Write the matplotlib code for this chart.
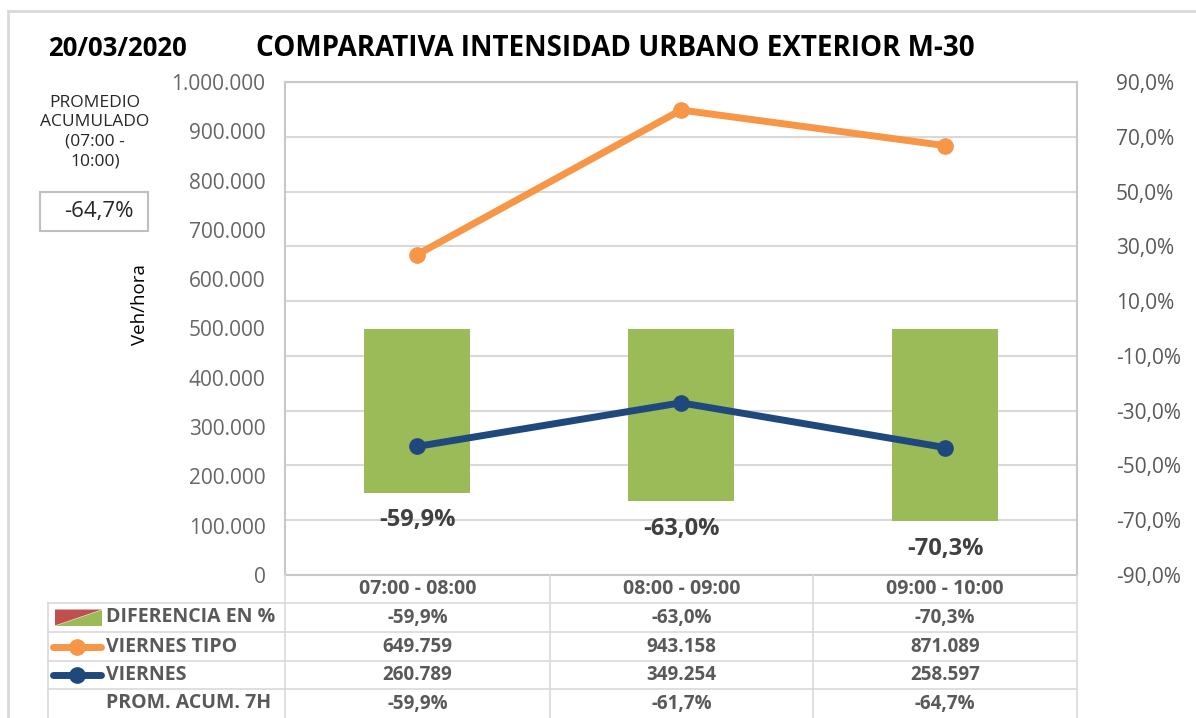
import numpy as np
import matplotlib.pyplot as plt
from matplotlib.lines import Line2D
from matplotlib.patches import Polygon, Rectangle

plt.rcParams['font.family'] = ['Open Sans', 'DejaVu Sans']

# data
franjas = ['07:00 - 08:00', '08:00 - 09:00', '09:00 - 10:00']
diferencia = [-59.9, -63.0, -70.3]
viernes_tipo = [649759, 943158, 871089]
viernes = [260789, 349254, 258597]
prom_acum = [-59.9, -61.7, -64.7]
prom_total = -64.7
fecha = '20/03/2020'
titulo = 'COMPARATIVA INTENSIDAD URBANO EXTERIOR M-30'

VERDE = '#9BBB59'
ROJO = '#C0504D'
NARANJA = '#F79646'
AZUL = '#1F497D'
GRIS = '#595959'
LINEA = '#D9D9D9'

W, H = 1196, 718


def fx(px):
    return px / W


def fy(py):
    return 1 - py / H


def pct(v):
    return f'{v:.1f}%'.replace('.', ',')


def miles(v):
    return f'{v:,.0f}'.replace(',', '.')


fig = plt.figure(figsize=(W / 100, H / 100), dpi=100)

# plot area
x0, x1, y0, y1 = 285, 1077, 82, 575
ax = fig.add_axes([fx(x0), fy(y1), fx(x1 - x0), fy(y0) - fy(y1)])
ax2 = ax.twinx()
x = np.arange(len(franjas))

# bars on the percent axis (right)
ax.bar(x, diferencia, width=0.4, color=VERDE, zorder=2)
ax.set_ylim(-90, 90)
ax.set_yticks(np.arange(-90, 91, 20))
ax.set_yticklabels([pct(v) for v in np.arange(-90, 91, 20)])
ax.tick_params(axis='y', length=0, pad=28, labelsize=15, labelcolor=GRIS)
for lab in ax.get_yticklabels():
    lab.set_horizontalalignment('left')
ax.set_xlim(-0.5, len(franjas) - 0.5)
ax.set_xticks([])
ax.grid(axis='y', color=LINEA, linewidth=1.5, zorder=0)
ax.set_axisbelow(True)
for s in ax.spines.values():
    s.set_color('#C8C8C8')
    s.set_linewidth(1.5)

for xi, d in zip(x, diferencia):
    ax.annotate(pct(d), (xi, d), xytext=(0, -20), textcoords='offset points',
                ha='center', va='center', fontsize=17, fontweight='bold', color='#404040')

# lines on the traffic axis (left)
ax2.plot(x, viernes_tipo, color=NARANJA, linewidth=5, marker='o', markersize=11,
         solid_capstyle='round', zorder=3)
ax2.plot(x, viernes, color=AZUL, linewidth=5, marker='o', markersize=11,
         solid_capstyle='round', zorder=3)
ax2.set_ylim(0, 1000000)
ax2.set_yticks(np.arange(0, 1000001, 100000))
ax2.set_yticklabels([miles(v) for v in np.arange(0, 1000001, 100000)])
ax2.yaxis.tick_left()
ax2.tick_params(axis='y', length=0, pad=14, labelsize=15, labelcolor='#666666')
ax2.set_xticks([])
for s in ax2.spines.values():
    s.set_visible(False)
ax.yaxis.tick_right()

fig.text(fx(140), fy(305), 'Veh/hora', fontsize=13.5, rotation=90, ha='center',
         va='center', color='black')

# titles
fig.text(fx(48), fy(49), fecha, fontsize=18.5, fontweight='bold', va='center', ha='left')
fig.text(fx(615), fy(49), titulo, fontsize=20, fontweight='bold', va='center', ha='center')

# left side box
fig.text(fx(95), fy(132), 'PROMEDIO\nACUMULADO\n(07:00 -\n10:00)', fontsize=12.5,
         ha='center', va='center', color='#262626', linespacing=1.3)
fig.patches.append(Rectangle((fx(40), fy(231)), fx(108), fy(192) - fy(231),
                             transform=fig.transFigure, fill=False,
                             edgecolor='#BFBFBF', linewidth=1.5))
fig.text(fx(99), fy(212), pct(prom_total), fontsize=16, ha='center', va='center',
         color='#262626')

# outer frame
fig.lines.append(Line2D([fx(8), fx(8)], [fy(11), 0], transform=fig.transFigure,
                        color='#D9D9D9', linewidth=2))
fig.lines.append(Line2D([fx(8), 1], [fy(11), fy(11)], transform=fig.transFigure,
                        color='#D9D9D9', linewidth=2))

# data table below the plot
cols = [x0, 550, 813, x1]
rows = [575, 603, 632, 661, 689, 718]


def hline(yp, xa, xb):
    fig.lines.append(Line2D([fx(xa), fx(xb)], [fy(yp), fy(yp)], transform=fig.transFigure,
                            color=LINEA, linewidth=1.2))


def vline(xp, ya, yb):
    fig.lines.append(Line2D([fx(xp), fx(xp)], [fy(ya), fy(yb)], transform=fig.transFigure,
                            color=LINEA, linewidth=1.2))


for r in rows[1:-1]:
    hline(r, 48, x1)
vline(48, 603, 718)
for c in cols:
    vline(c, 575, 718)

row_labels = ['DIFERENCIA EN %', 'VIERNES TIPO', 'VIERNES', 'PROM. ACUM. 7H']
row_values = [[pct(v) for v in diferencia],
              [miles(v) for v in viernes_tipo],
              [miles(v) for v in viernes],
              [pct(v) for v in prom_acum]]

for j, f in enumerate(franjas):
    cx = (cols[j] + cols[j + 1]) / 2
    fig.text(fx(cx), fy((rows[0] + rows[1]) / 2), f, fontsize=14, fontweight='bold',
             ha='center', va='center', color=GRIS)

for i, (lab, vals) in enumerate(zip(row_labels, row_values)):
    cy = (rows[i + 1] + rows[i + 2]) / 2
    fig.text(fx(106), fy(cy), lab, fontsize=14, fontweight='bold', ha='left',
             va='center', color=GRIS)
    for j, v in enumerate(vals):
        cx = (cols[j] + cols[j + 1]) / 2
        fig.text(fx(cx), fy(cy), v, fontsize=13.5, fontweight='bold', ha='center',
                 va='center', color=GRIS)

# legend keys
ky = (rows[1] + rows[2]) / 2
fig.patches.append(Polygon([[fx(55), fy(ky - 8)], [fx(102), fy(ky - 8)], [fx(55), fy(ky + 8)]],
                           transform=fig.transFigure, facecolor=ROJO, edgecolor='none'))
fig.patches.append(Polygon([[fx(102), fy(ky - 8)], [fx(102), fy(ky + 8)], [fx(55), fy(ky + 8)]],
                           transform=fig.transFigure, facecolor=VERDE, edgecolor='none'))
for i, col in [(2, NARANJA), (3, AZUL)]:
    cy = (rows[i] + rows[i + 1]) / 2
    fig.lines.append(Line2D([fx(53), fx(101)], [fy(cy), fy(cy)], transform=fig.transFigure,
                            color=col, linewidth=5, solid_capstyle='round'))
    fig.lines.append(Line2D([fx(77)], [fy(cy)], transform=fig.transFigure, color=col,
                            marker='o', markersize=11))

fig.savefig('out.png', dpi=100)
